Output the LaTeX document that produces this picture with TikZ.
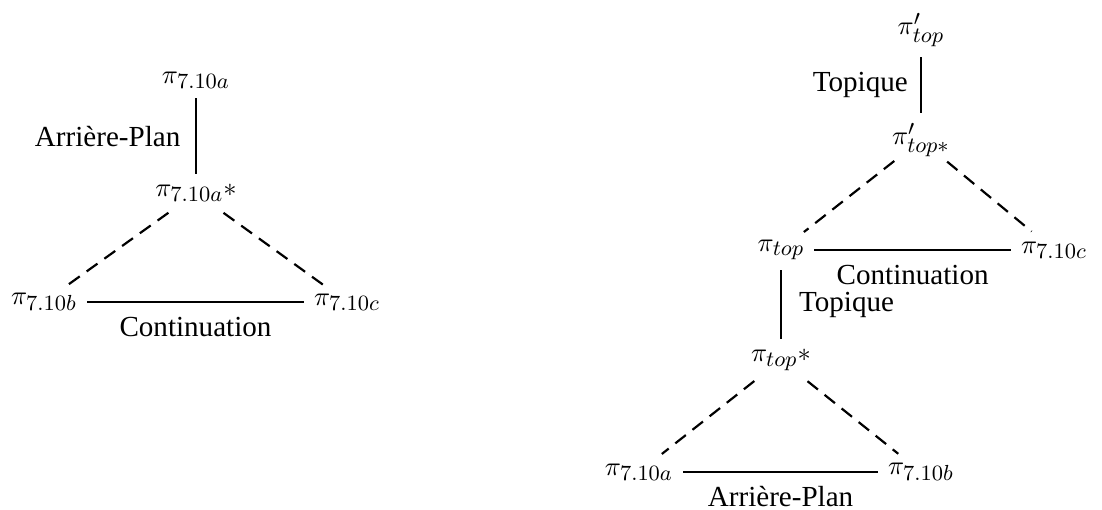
\documentclass[tikz,border=0pt]{standalone}
\usepackage[no-math]{fontspec}
\setmainfont{Liberation Serif}
\DeclareMathSizes{12}{11}{9}{7}
\tikzset{
  rel/.style={-, line width=0.9pt},
  sub/.style={-, line width=0.9pt, dash pattern=on 5.5pt off 3.5pt,
    shorten <=14pt, shorten >=12pt},
}
\begin{document}
\fontsize{12}{14}\selectfont
\begin{tikzpicture}[x=0.0145cm, y=-0.0145cm]
      \useasboundingbox (0,0) rectangle (1102,510);
      % left structure
      \draw
        (196,80) node (a){$\pi_{7.10a}$}
        (196,193) node (as){$\pi_{7.10a}*$}
        (44,302) node (b){$\pi_{7.10b}$}
        (347,302) node (c){$\pi_{7.10c}$};
      % right structure
      \draw
        (921,30) node (tp){$\pi'_{top}$}
        (921,140) node (tps){$\pi'_{top*}$}
        (781,250) node (t){$\pi_{top}$}
        (1054,250) node (c2){$\pi_{7.10c}$}
        (781,360) node (ts){$\pi_{top}*$}
        (639,472) node (a2){$\pi_{7.10a}$}
        (921,472) node (b2){$\pi_{7.10b}$};
      \begin{scope}[rel]
        \draw (a) to node[left=2pt]{Arrière-Plan} (as);
        \draw (b) to node[below=2pt]{Continuation} (c);
        \draw (tp) to node[left=1pt]{Topique} (tps);
        \draw (t) to node[below=2pt]{Continuation} (c2);
        \draw (t) to node[right=3pt]{Topique} (ts);
        \draw (a2) to node[below=1.5pt]{Arrière-Plan} (b2);
      \end{scope}
      \begin{scope}[sub]
        \draw (as.center) to (b.center);
        \draw (as.center) to (c.center);
        \draw (tps.center) to (t.center);
        \draw (tps.center) to (c2.center);
        \draw (ts.center) to (a2.center);
        \draw (ts.center) to (b2.center);
      \end{scope}
    \end{tikzpicture}
\end{document}
